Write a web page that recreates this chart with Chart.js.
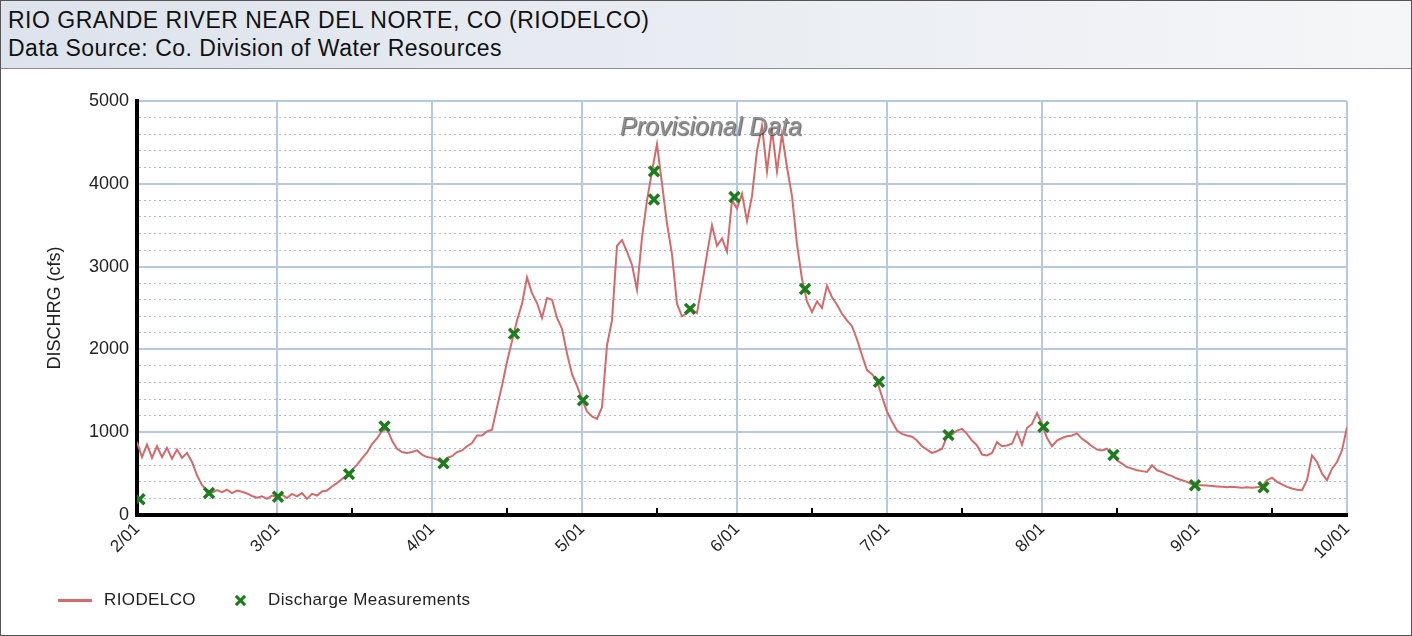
<html>
  <head>
    <script src="https://cdn.jsdelivr.net/npm/chart.js"></script>
    <style>
      body { margin: 0; background: #fff; font-family: "Liberation Sans", Arial, sans-serif; }
      #frame { position: relative; width: 1410px; height: 634px; border: 1px solid #555; overflow: hidden; }
      #header { position: absolute; left: 0; top: 0; width: 1410px; height: 67px;
                background: linear-gradient(to right, #dde3ec, #f5f6f8); border-bottom: 1px solid #8a8a8a; }
      #header div { position: absolute; left: 7px; font-size: 23px; letter-spacing: 0.5px; color: #111; white-space: nowrap; }
      #chart_div { position: absolute; left: -1px; top: 69px; width: 1412px; height: 520px; }
      #legend { position: absolute; left: 0; top: 588px; height: 24px; width: 600px; font-size: 17px; letter-spacing: 0.4px; color: #222; }
      .lg-line { position: absolute; left: 57px; top: 10px; width: 34px; height: 3px; background: #d46a6a; }
      .lg-cross { position: absolute; left: 233px; top: 5px; width: 13px; height: 13px; }
      .lg-cross:before, .lg-cross:after { content: ""; position: absolute; left: 0; top: 5px; width: 13px; height: 3px;
                background: #1b7d1b; transform: rotate(45deg); }
      .lg-cross:after { transform: rotate(-45deg); }
      .lg-text { position: absolute; top: 1px; white-space: nowrap; }
    </style>
    <script type="text/javascript">
      // day 0 = 2/01, one value per day through 10/01 (cfs)
      var flowValues = [
        880, 700, 850, 690, 830, 700, 810, 680, 790, 690, 750, 640, 480, 360, 300, 270, 300, 275, 305, 265,
        295, 280, 260, 230, 210, 225, 195, 235, 215, 245, 205, 255, 225, 265, 195, 255, 235, 285, 295, 345,
        385, 435, 475, 545, 605, 685, 755, 855, 925, 1015, 1040, 900, 800, 760, 750, 760, 780, 730, 700, 690,
        670, 630, 690, 710, 760, 780, 830, 870, 960, 960, 1010, 1030, 1300, 1560, 1850, 2100, 2350, 2550, 2870, 2680,
        2560, 2380, 2620, 2600, 2380, 2250, 1950, 1700, 1560, 1400, 1250, 1190, 1160, 1300, 2050, 2350, 3250, 3320, 3180, 3020,
        2720, 3350, 3800, 4150, 4480, 4000, 3520, 3150, 2550, 2400, 2440, 2480, 2440, 2780, 3150, 3500, 3250, 3340, 3180, 3800,
        3700, 3880, 3550, 3850, 4400, 4700, 4150, 4650, 4150, 4600, 4200, 3850, 3270, 2850, 2580, 2450, 2580, 2500, 2770, 2630,
        2540, 2430, 2350, 2280, 2120, 1930, 1750, 1700, 1620, 1430, 1250, 1130, 1020, 980, 960, 945, 900, 830, 790, 750,
        770, 800, 950, 970, 1020, 1040, 980, 900, 840, 730, 720, 750, 880, 830, 840, 860, 1000, 850, 1050, 1100,
        1230, 1100, 930, 830, 900, 930, 950, 960, 985, 920, 880, 830, 790, 780, 800, 730, 660, 620, 580, 560,
        540, 530, 520, 600, 540, 520, 490, 470, 440, 420, 400, 370, 360, 360, 355, 350, 345, 340, 335, 340,
        335, 330, 335, 330, 335, 340, 420, 450, 400, 370, 340, 320, 305, 300, 420, 720, 640, 500, 420, 560,
        640, 780, 1060
      ];

      // discharge measurements: day offset and value
      var measDays = [0.5, 14.4, 28.2, 42.4, 49.5, 61.3, 75.4, 89.2, 103.4, 103.4, 110.6, 119.5, 133.6, 148.4, 162.3, 181.3, 195.3, 211.6, 225.3];
      var measValues = [190, 265, 220, 494, 1070, 625, 2190, 1385, 3810, 4150, 2490, 3840, 2730, 1610, 965, 1065, 725, 360, 335];

      var monthDays = [0, 28, 59, 89, 120, 150, 181, 212, 242];
      var monthLabels = ['2/01', '3/01', '4/01', '5/01', '6/01', '7/01', '8/01', '9/01', '10/01'];
      var midMonthDays = [43, 74, 104, 135, 165, 196, 227];

      function drawChart() {
        var flowPoints = flowValues.map(function (v, i) { return { x: i, y: v }; });
        var measPoints = measDays.map(function (d, i) { return { x: d, y: measValues[i] }; });

        var watermark = {
          id: 'watermark',
          afterDatasetsDraw: function (chart) {
            var c = chart.ctx, a = chart.chartArea;
            c.save();
            c.font = 'italic 25px "Liberation Sans", Arial, sans-serif';
            c.textAlign = 'center';
            c.textBaseline = 'middle';
            c.shadowColor = 'rgba(40,40,40,0.7)';
            c.shadowOffsetX = 1;
            c.shadowOffsetY = 1;
            c.shadowBlur = 1;
            c.fillStyle = '#8f8f8f';
            c.fillText('Provisional Data', a.left + 574, a.top + 27);
            c.restore();
          }
        };

        var midTicks = {
          id: 'midTicks',
          afterDraw: function (chart) {
            var c = chart.ctx, xs = chart.scales.x, a = chart.chartArea;
            c.save();
            c.strokeStyle = '#000';
            c.lineWidth = 2;
            midMonthDays.forEach(function (d) {
              var px = xs.getPixelForValue(d);
              c.beginPath();
              c.moveTo(px, a.bottom - 7);
              c.lineTo(px, a.bottom);
              c.stroke();
            });
            c.restore();
          }
        };

        var font = '"Liberation Sans", Arial, sans-serif';
        const ctx = document.getElementById('flowChart');
        new Chart(ctx, {
          type: 'line',
          data: {
            datasets: [{
              label: 'Discharge Measurements',
              type: 'scatter',
              data: measPoints,
              showLine: false,
              pointStyle: 'crossRot',
              pointRadius: 7,
              pointBorderWidth: 3.5,
              borderColor: '#1b7d1b',
              backgroundColor: '#1b7d1b',
              order: 0
            }, {
              label: 'RIODELCO',
              data: flowPoints,
              borderColor: '#d46a6a',
              borderWidth: 2,
              pointRadius: 0,
              tension: 0,
              order: 1
            }]
          },
          options: {
            responsive: true,
            maintainAspectRatio: false,
            animation: false,
            devicePixelRatio: 1,
            layout: { padding: { top: 31, right: 65, left: 44, bottom: 0 } },
            plugins: {
              legend: { display: false },
              tooltip: { enabled: false }
            },
            scales: {
              x: {
                type: 'linear',
                min: 0,
                max: 242,
                afterBuildTicks: function (scale) {
                  scale.ticks = monthDays.map(function (d) { return { value: d }; });
                },
                afterFit: function (scale) { scale.height = 75; },
                ticks: {
                  autoSkip: false,
                  maxRotation: 45,
                  minRotation: 45,
                  padding: 4,
                  color: '#222',
                  font: { family: font, size: 17 },
                  callback: function (value) {
                    var i = monthDays.indexOf(value);
                    return i >= 0 ? monthLabels[i] : '';
                  }
                },
                grid: { color: '#b7c8e4', lineWidth: 2, drawTicks: false },
                border: { color: '#000', width: 4 }
              },
              y: {
                min: 0,
                max: 5000,
                afterFit: function (scale) { scale.width = 93; },
                ticks: {
                  stepSize: 200,
                  autoSkip: false,
                  padding: 8,
                  color: '#222',
                  font: { family: font, size: 18 },
                  callback: function (value) { return value % 1000 === 0 ? value : ''; }
                },
                title: {
                  display: true,
                  text: 'DISCHRG (cfs)',
                  color: '#222',
                  padding: 0,
                  font: { family: font, size: 18 }
                },
                grid: {
                  drawTicks: false,
                  color: function (c) { return c.tick && c.tick.value % 1000 === 0 ? '#b7c8e4' : '#a8bcdf'; },
                  lineWidth: function (c) { return c.tick && c.tick.value % 1000 === 0 ? 2 : 1; }
                },
                border: {
                  color: '#000',
                  width: 4,
                  dash: function (c) { return c.tick && c.tick.value % 1000 !== 0 ? [2, 3] : []; }
                }
              }
            }
          },
          plugins: [watermark, midTicks]
        });
      }

      window.onload = drawChart;
    </script>
  </head>
  <body>
    <div id="frame">
      <div id="header">
        <div style="top: 6px;">RIO GRANDE RIVER NEAR DEL NORTE, CO (RIODELCO)</div>
        <div style="top: 34px;">Data Source: Co. Division of Water Resources</div>
      </div>
      <div id="chart_div"><canvas id="flowChart"></canvas></div>
      <div id="legend">
        <div class="lg-line"></div>
        <div class="lg-text" style="left: 103px;">RIODELCO</div>
        <div class="lg-cross"></div>
        <div class="lg-text" style="left: 267px;">Discharge Measurements</div>
      </div>
    </div>
  </body>
</html>
